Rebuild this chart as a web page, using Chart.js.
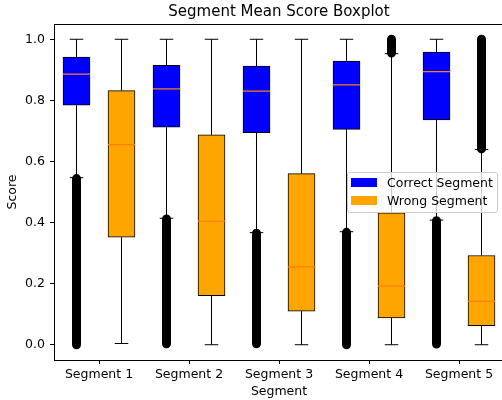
<!DOCTYPE html>
<html>
<head>
<meta charset="utf-8">
<script src="https://cdn.jsdelivr.net/npm/chart.js@4/dist/chart.umd.min.js"></script>
<style>
  html, body { margin: 0; padding: 0; overflow: hidden; background: #fff; }
  #wrap { position: relative; width: 506px; height: 400px; }
  #legend { position: absolute; left: 347px; top: 172px; width: 149px; height: 39px;
    border: 1px solid #cccccc; border-radius: 3px; background: rgba(255,255,255,0.8);
    font-family: 'DejaVu Sans', sans-serif; font-size: 12.5px; color: #000; z-index: 2; }
  .patch { position: absolute; left: 3px; width: 26px; height: 9px; }
  .ltxt { position: absolute; left: 39px; line-height: 15px; white-space: nowrap; }
</style>
</head>
<body>
<div id="wrap">
  <canvas id="c" width="506" height="400"></canvas>
  <div id="legend"></div>
</div>
<script>
// ---- data ----
const categories = ['Segment 1', 'Segment 2', 'Segment 3', 'Segment 4', 'Segment 5'];
const seriesNames = ['Correct Segment', 'Wrong Segment'];
const seriesColors = ['#0000ff', '#ffa500'];

const correctLow    = [0.547, 0.414, 0.367, 0.370, 0.408];
const correctQ1     = [0.784, 0.712, 0.694, 0.705, 0.736];
const correctMedian = [0.886, 0.838, 0.830, 0.851, 0.894];
const correctQ3     = [0.942, 0.915, 0.912, 0.929, 0.958];
const correctHigh   = [1.0, 1.0, 1.0, 1.0, 1.0];
const correctFliers = [[0.0, 0.544], [0.003, 0.412], [0.003, 0.365], [0.0, 0.368], [0.002, 0.406]];

const wrongLow    = [0.004, 0.0, 0.0, 0.0, 0.0];
const wrongQ1     = [0.352, 0.161, 0.110, 0.088, 0.062];
const wrongMedian = [0.655, 0.405, 0.255, 0.192, 0.142];
const wrongQ3     = [0.832, 0.687, 0.560, 0.432, 0.292];
const wrongHigh   = [1.0, 1.0, 1.0, 0.953, 0.639];
const wrongFliers = [null, null, null, [0.955, 1.0], [0.641, 1.0]];

const yTicks = [0.0, 0.2, 0.4, 0.6, 0.8, 1.0];

// ---- build library tables ----
const groups = [
  {low: correctLow, q1: correctQ1, med: correctMedian, q3: correctQ3, high: correctHigh, fl: correctFliers},
  {low: wrongLow, q1: wrongQ1, med: wrongMedian, q3: wrongQ3, high: wrongHigh, fl: wrongFliers}
];
const OFFS = [-0.25, 0.25], BOXW = 0.3, CAPW = 0.15;
const posOf = (i, g) => i + 1 + OFFS[g];

const boxDatasets = groups.map((G, g) => ({
  type: 'bar', label: seriesNames[g], order: 4,
  data: categories.map((_, i) => ({x: posOf(i, g), y: [G.q1[i], G.q3[i]]})),
  backgroundColor: seriesColors[g], borderColor: '#000', borderWidth: 1,
  borderSkipped: false, barThickness: 27, grouped: false
}));

const whisk = [], caps = [], meds = [], fliers = [];
categories.forEach((_, i) => {
  groups.forEach((G, g) => {
    const x = posOf(i, g);
    whisk.push({x, y: G.low[i]}, {x, y: G.q1[i]}, {x, y: null},
               {x, y: G.q3[i]}, {x, y: G.high[i]}, {x, y: null});
    caps.push({x: x - CAPW / 2, y: G.low[i]}, {x: x + CAPW / 2, y: G.low[i]}, {x, y: null},
              {x: x - CAPW / 2, y: G.high[i]}, {x: x + CAPW / 2, y: G.high[i]}, {x, y: null});
    meds.push({x: x - BOXW / 2, y: G.med[i]}, {x: x + BOXW / 2, y: G.med[i]}, {x, y: null});
    if (G.fl[i]) fliers.push({x, y: G.fl[i][0]}, {x, y: G.fl[i][1]}, {x, y: null});
  });
});
const lineDs = (data, color, width, order, cap) => ({
  type: 'line', data, borderColor: color, borderWidth: width, order,
  pointRadius: 0, pointHoverRadius: 0, pointHitRadius: 0, spanGaps: false,
  tension: 0, fill: false, borderCapStyle: cap || 'butt'
});

const font = (size) => ({family: "'DejaVu Sans', sans-serif", size});

new Chart(document.getElementById('c'), {
  type: 'bar',
  data: {
    datasets: [
      lineDs(whisk, '#000', 1, 5),
      ...boxDatasets,
      lineDs(caps, '#000', 1, 3),
      lineDs(meds, '#ff7f0e', 1.25, 2),
      lineDs(fliers, '#000', 9, 1, 'round')
    ]
  },
  options: {
    responsive: false, animation: false, events: [],
    layout: {padding: {left: 0, right: 2, top: 0, bottom: 0}},
    plugins: {legend: {display: false}, tooltip: {enabled: false}, title: {display: false}},
    scales: {
      x: {
        type: 'linear', position: 'bottom', min: 0.5, max: 5.5, offset: false,
        afterBuildTicks: s => { s.ticks = categories.map((_, i) => ({value: i + 1})); },
        afterFit: s => { s.height = 40; },
        ticks: {color: '#000', font: font(12.5), padding: 3, maxRotation: 0, autoSkip: false,
                callback: (v) => categories[Math.round(v) - 1]},
        grid: {display: true, drawOnChartArea: false, drawTicks: true, tickLength: 4,
               color: '#000', offset: false},
        border: {display: true, color: '#000', width: 1},
        title: {display: true, text: 'Segment', color: '#000', font: font(12.5),
                padding: {top: 0, bottom: 1}}
      },
      x2: {
        type: 'linear', position: 'top', min: 0, max: 1, display: true,
        afterFit: s => { s.height = 24; },
        ticks: {display: false},
        grid: {display: false, drawTicks: false},
        border: {display: true, color: '#000', width: 1},
        title: {display: true, text: 'Segment Mean Score Boxplot', color: '#000', font: font(15),
                padding: {top: 3, bottom: 0}}
      },
      y: {
        type: 'linear', position: 'left', min: -0.05, max: 1.05,
        afterBuildTicks: s => { s.ticks = yTicks.map(v => ({value: v})); },
        afterFit: s => { s.width = 54; },
        ticks: {color: '#000', font: font(12.5), padding: 5, callback: v => Number(v).toFixed(1)},
        grid: {display: true, drawOnChartArea: false, drawTicks: true, tickLength: 4, color: '#000'},
        border: {display: true, color: '#000', width: 1},
        title: {display: true, text: 'Score', color: '#000', font: font(12.5),
                padding: {top: 5.5, bottom: 0}}
      }
    }
  }
});

// legend (HTML text)
const lg = document.getElementById('legend');
const rowCenters = [9.3, 27.7];
seriesNames.forEach((name, g) => {
  const p = document.createElement('div');
  p.className = 'patch';
  p.style.top = (rowCenters[g] - 4.5) + 'px';
  p.style.background = seriesColors[g];
  lg.appendChild(p);
  const t = document.createElement('div');
  t.className = 'ltxt';
  t.style.top = (rowCenters[g] - 7.5) + 'px';
  t.textContent = name;
  lg.appendChild(t);
});
</script>
</body>
</html>
